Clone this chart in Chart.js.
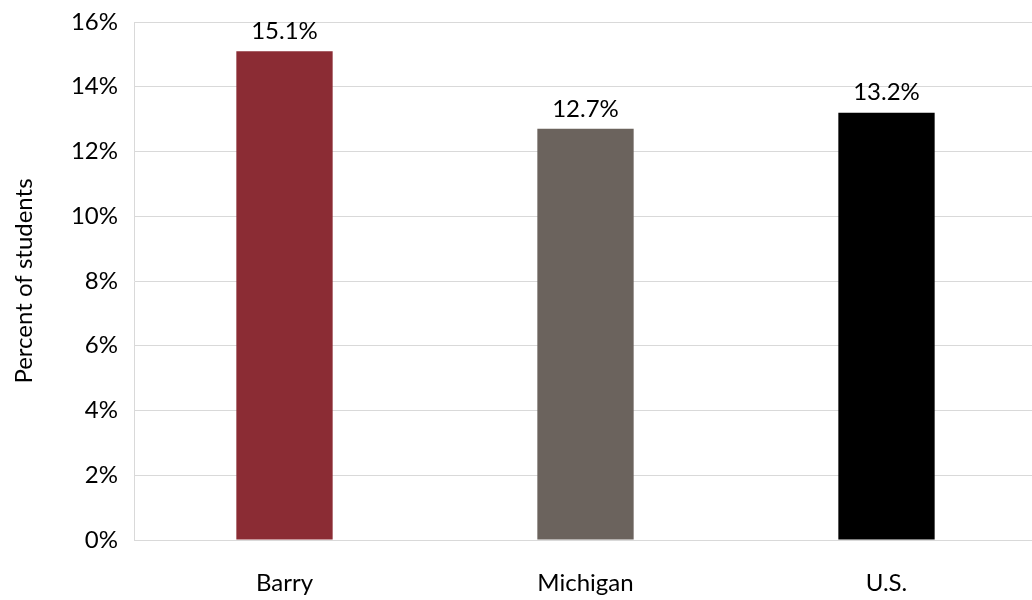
<!DOCTYPE html>
<html>
<head>
<meta charset="utf-8">
<script src="https://cdn.jsdelivr.net/npm/chart.js@4/dist/chart.umd.min.js"></script>
<style>
  html, body { margin: 0; padding: 0; background: #fff; overflow: hidden; }
  /* plot runs a few px past the right edge in the original */
  #wrap { width: 1037px; height: 600px; }
</style>
</head>
<body>
<div id="wrap"><canvas id="chart"></canvas></div>
<script>
const places = ['Barry', 'Michigan', 'U.S.'];
const percentStudents = [15.1, 12.7, 13.2];
const barColors = ['#8B2C34', '#6B635D', '#000000'];
const yTicks = [0, 2, 4, 6, 8, 10, 12, 14, 16];

const FONT = 'Lato, "Open Sans", sans-serif';
const FS = 24;

/* value labels above each bar */
const valueLabels = {
  id: 'valueLabels',
  afterDatasetsDraw(chart) {
    const ctx = chart.ctx;
    const meta = chart.getDatasetMeta(0);
    ctx.save();
    ctx.font = FS + 'px ' + FONT;
    ctx.fillStyle = '#000';
    ctx.textAlign = 'center';
    ctx.textBaseline = 'middle';
    meta.data.forEach((bar, i) => {
      ctx.fillText(percentStudents[i].toFixed(1) + '%', bar.x, bar.y - 20);
    });
    ctx.restore();
  }
};

const chart = new Chart(document.getElementById('chart'), {
  type: 'bar',
  data: {
    labels: places,
    datasets: [{
      label: 'Percent of students',
      data: percentStudents,
      backgroundColor: barColors,
      borderWidth: 0,
      categoryPercentage: 1,
      barPercentage: 0.32
    }]
  },
  options: {
    responsive: true,
    maintainAspectRatio: false,
    animation: false,
    layout: { padding: { top: 22, bottom: 0, left: 0, right: 0 } },
    plugins: {
      legend: { display: false },
      tooltip: { enabled: false }
    },
    scales: {
      x: {
        afterFit: (axis) => { axis.height = 60; },
        ticks: { color: '#000', font: { family: FONT, size: FS }, padding: 29 },
        grid: { display: false, drawTicks: false },
        border: { color: '#d9d9d9', width: 1 }
      },
      y: {
        min: 0,
        max: 16,
        afterBuildTicks: (axis) => { axis.ticks = yTicks.map(v => ({ value: v })); },
        afterFit: (axis) => { axis.width = 134; axis.paddingTop = 0; },
        ticks: {
          color: '#000',
          font: { family: FONT, size: FS },
          padding: 16,
          callback: (v) => v + '%'
        },
        grid: { color: '#d9d9d9', lineWidth: 1, drawTicks: false },
        border: { color: '#d9d9d9', width: 1 },
        title: {
          display: true,
          text: 'Percent of students',
          color: '#000',
          font: { family: FONT, size: FS },
          padding: { top: 10, bottom: 10 }
        }
      }
    }
  },
  plugins: [valueLabels]
});
</script>
</body>
</html>
